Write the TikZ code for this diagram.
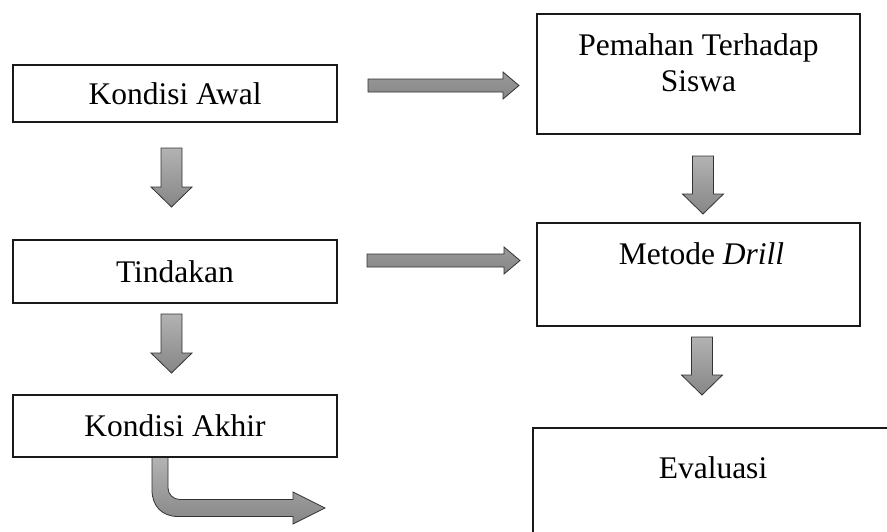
\documentclass[tikz,border=0pt]{standalone}
\usepackage{fontspec}
\setmainfont{Liberation Serif}
\usetikzlibrary{calc,positioning}

\tikzset{
  box/.style={draw=black!90, line width=2pt, fill=white, inner sep=0pt,
    minimum width=324pt},
  boxtext/.style={inner sep=0pt, align=center},
  blk/.style={draw=black!80, line width=0.8pt, top color=gray!60, bottom color=gray!95},
  blkh/.style={draw=black!80, line width=0.8pt, top color=gray!80, bottom color=gray!95},
}

% block arrow pointing down: top centre, shaft length
\newcommand{\blockdown}[2]{%
  \draw[blk] ($#1+(-10.5,0)$) -- ++(21,0) -- ++(0,#2) -- ++(10,0)
    -- ++(-20.5,20) -- ++(-20.5,-20) -- ++(10,0) -- cycle;}
% block arrow pointing right: left centre, shaft length
\newcommand{\blockright}[2]{%
  \draw[blkh] ($#1+(0,-6.5)$) -- ++(#2,0) -- ++(0,-7) -- ++(16,13.5)
    -- ++(-16,13.5) -- ++(0,-7) -- ++(-#2,0) -- cycle;}

\begin{document}
\begin{tikzpicture}[x=1pt, y=-1pt, font=\fontsize{31.5}{36}\selectfont]
    \useasboundingbox (0,0) rectangle (887,531);
    \clip (0,0) rectangle (887,531);

    % left column
    \node[box, minimum height=57pt] (awal) at (175,93.5) {Kondisi Awal};
    \node[box, minimum height=63pt] (tindakan) at (175,271.5) {Tindakan};
    \node[box, minimum height=62pt] (akhir) at (175,426) {Kondisi Akhir};

    % right column
    \node[box, minimum width=323pt, minimum height=120pt] (pemahan) at (698.5,74) {};
    \node[boxtext, below=20pt of pemahan.north] (pemahantext)
        {Pemahan Terhadap\\Siswa};
    \node[box, minimum width=323pt, minimum height=103pt] (drill) at (698.5,274.5) {};
    \node[boxtext, below=20pt of drill.north, xshift=3pt] (drilltext)
        {Metode \textit{Drill}};
    \node[box, minimum width=360pt, minimum height=150pt, anchor=north west]
        (evaluasi) at (532,427) {};
    \node[boxtext, below=29pt of evaluasi.north] (evaluasitext) {Evaluasi};

    % arrows
    \coordinate (d1) at ($(awal.south)+(-3.5,25)$);
    \coordinate (d2) at ($(tindakan.south)+(-3.5,10)$);
    \coordinate (d3) at ($(pemahan.south)+(4.5,21)$);
    \coordinate (d4) at ($(drill.south)+(3.5,10)$);
    \coordinate (r1) at ($(awal.east)+(30,-8)$);
    \coordinate (r2) at ($(tindakan.east)+(29,-11)$);
    \coordinate (k) at ($(akhir.south)+(-23,0)$);

    \blockdown{(d1)}{39}
    \blockdown{(d2)}{39}
    \blockdown{(d3)}{38}
    \blockdown{(d4)}{38}
    \blockright{(r1)}{135}
    \blockright{(r2)}{137}

    \draw[blk] (k) -- ++(0,32) .. controls +(0,16) and +(-16,0) .. ++(26,26.5)
        -- ++(115,0) -- ++(0,7.5) -- ++(32,-16) -- ++(-32,-16) -- ++(0,7.5)
        -- ++(-113,0) .. controls +(-7,0) and +(0,6) .. ++(-12,-11.5)
        -- ++(0,-30);
\end{tikzpicture}
\end{document}
